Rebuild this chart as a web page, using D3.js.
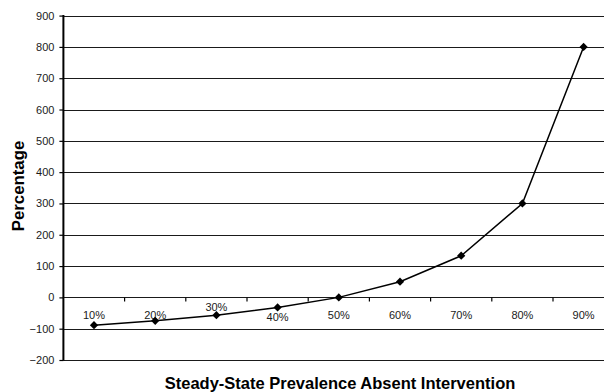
<!DOCTYPE html>
<html><head><meta charset="utf-8">
<script src="https://cdn.jsdelivr.net/npm/d3@7"></script>
<style>
html,body{margin:0;padding:0;background:#fff;}
svg{display:block;font-family:"Liberation Sans",Arial,sans-serif;}
</style></head>
<body>
<svg id="chart" width="604" height="392"></svg>
<script>
const categories = ["10%","20%","30%","40%","50%","60%","70%","80%","90%"];
const values = [-89, -75, -57, -32, 0, 50, 133, 300, 800];
const yTicks = [-200,-100,0,100,200,300,400,500,600,700,800,900];
const xTitle = "Steady-State Prevalence Absent Intervention";
const yTitle = "Percentage";

(function () {
const svg = d3.select("#chart");
const pLeft = 63.4, pRight = 614.2, pTop = 15.6, pBottom = 360;
const x = d3.scaleBand().domain(categories).range([pLeft, pRight]).padding(0);
const y = d3.scaleLinear().domain([-200, 900]).range([pBottom, pTop]);

// gridlines
svg.append("g").selectAll("line").data(yTicks).join("line")
  .attr("x1", pLeft).attr("x2", pRight)
  .attr("y1", d => Math.round(y(d)) + 0.5).attr("y2", d => Math.round(y(d)) + 0.5)
  .attr("stroke", "#1a1a1a").attr("stroke-width", 1.2);

// y axis
const yAxis = d3.axisLeft(y).tickValues(yTicks).tickSize(4).tickPadding(5).tickFormat(d3.format("d"));
const gy = svg.append("g").attr("transform", `translate(${pLeft},0)`).call(yAxis);
gy.select(".domain").remove();
gy.selectAll(".tick line").attr("stroke", "#000").attr("stroke-width", 1.2);
gy.selectAll(".tick text").attr("font-size", 11).attr("fill", "#1a1a1a")
  .attr("font-family", "'Liberation Sans', Arial, sans-serif");
svg.append("line").attr("x1", pLeft).attr("x2", pLeft).attr("y1", pTop - 0.5).attr("y2", pBottom + 0.8)
  .attr("stroke", "#000").attr("stroke-width", 2);

// x ticks at zero line (category boundaries)
const y0 = Math.round(y(0)) + 0.5;
svg.append("g").selectAll("line").data(categories.slice(1)).join("line")
  .attr("x1", d => x(d)).attr("x2", d => x(d))
  .attr("y1", y0).attr("y2", y0 + 4)
  .attr("stroke", "#000").attr("stroke-width", 1.2);

// category labels
const nudge = {"30%": -8, "40%": 2.5};
svg.append("g").selectAll("text").data(categories).join("text")
  .attr("x", d => x(d) + x.bandwidth() / 2)
  .attr("y", d => y0 + 21 + (nudge[d] || 0))
  .attr("text-anchor", "middle").attr("font-size", 11).attr("fill", "#1a1a1a")
  .text(d => d);

// line
const pts = categories.map((c, i) => [x(c) + x.bandwidth() / 2, y(values[i])]);
svg.append("path").attr("d", d3.line()(pts))
  .attr("fill", "none").attr("stroke", "#000").attr("stroke-width", 1.5);

// diamond markers
svg.append("g").selectAll("path").data(pts).join("path")
  .attr("d", d3.symbol(d3.symbolSquare, 34)())
  .attr("transform", d => `translate(${d[0]},${d[1]}) rotate(45)`)
  .attr("fill", "#000");

// titles
svg.append("text").attr("x", 340).attr("y", 389)
  .attr("text-anchor", "middle").attr("font-size", 16.5).attr("font-weight", "bold")
  .text(xTitle);
svg.append("text").attr("transform", "translate(23.5,186) rotate(-90)")
  .attr("text-anchor", "middle").attr("font-size", 16.8).attr("font-weight", "bold")
  .text(yTitle);
})();
</script>
</body></html>
